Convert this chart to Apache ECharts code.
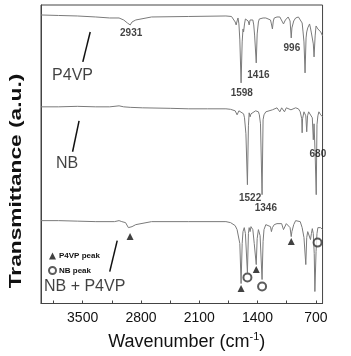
<!DOCTYPE html>
<html>
<head>
<meta charset="utf-8">
<script src="https://cdn.jsdelivr.net/npm/echarts@6.0.0/dist/echarts.min.js"></script>
<style>
  html, body { margin: 0; padding: 0; background: #fff; }
  #chart { width: 351px; height: 356px; }
</style>
</head>
<body>
<div id="chart"></div>
<script>
// FTIR spectra, [wavenumber (cm-1), transmittance (a.u., stacked offsets)]
const p4vp = [
  [4000, 289], [3788, 288.5], [3565, 288], [3342, 287], [3175, 286], [3063, 286],
  [3007, 284], [2963, 281], [2929, 279], [2907, 282], [2884, 280], [2862, 284],
  [2840, 286], [2673, 287], [2226, 287.5], [1780, 288], [1713, 287.5], [1669, 282],
  [1657, 279], [1646, 283], [1635, 286], [1624, 280], [1613, 264], [1598, 221],
  [1585, 262], [1575, 275], [1568, 272], [1557, 280], [1546, 285], [1535, 287],
  [1513, 283], [1501, 279], [1490, 284], [1479, 286], [1457, 284], [1446, 279],
  [1435, 268], [1416, 241], [1405, 270], [1390, 282], [1379, 285], [1356, 285],
  [1334, 286], [1301, 286], [1278, 287], [1245, 284], [1234, 280], [1222, 275],
  [1211, 283], [1200, 286], [1167, 287], [1133, 287], [1111, 286], [1089, 280],
  [1077, 279], [1066, 284], [1055, 286], [1033, 287], [1010, 283], [996, 266],
  [988, 276], [966, 283], [943, 286], [932, 287], [910, 287], [888, 286],
  [865, 281], [854, 272], [843, 262], [830, 231], [818, 266], [810, 272],
  [798, 276], [787, 277], [776, 280], [765, 276], [754, 271], [743, 269],
  [731, 260], [722, 247], [709, 268], [698, 278], [687, 277], [676, 275],
  [664, 273], [653, 275], [642, 272], [631, 270], [620, 268]
];
const nb = [
  [4000, 197], [3788, 197], [3565, 197.5], [3342, 197], [3175, 197], [3063, 198],
  [3007, 197], [2929, 196.5], [2784, 196], [2449, 195.5], [2226, 195], [2003, 195],
  [1780, 195], [1724, 194.5], [1669, 193], [1646, 189], [1624, 193], [1568, 190],
  [1557, 186], [1540, 170], [1522, 119], [1510, 178], [1501, 191], [1490, 187],
  [1479, 190], [1457, 192], [1423, 193], [1390, 192], [1379, 189], [1365, 180],
  [1346, 109], [1334, 184], [1323, 189], [1301, 192], [1278, 194], [1222, 194],
  [1167, 196], [1133, 192], [1111, 196], [1077, 192], [1055, 196], [999, 194],
  [943, 196], [910, 195], [888, 192], [870, 185], [865, 171], [860, 185],
  [843, 192], [832, 193], [821, 188], [810, 172], [800, 188], [787, 192],
  [765, 194], [743, 186], [731, 164], [722, 180], [709, 150], [696, 109],
  [687, 179], [676, 188], [664, 192], [642, 189], [620, 187]
];
const blend = [
  [4000, 83], [3788, 83], [3565, 82.5], [3342, 82], [3119, 82], [3063, 83],
  [3030, 82], [2985, 81], [2951, 76], [2929, 74], [2907, 77], [2884, 75],
  [2862, 79], [2840, 81], [2673, 82], [2226, 82], [1780, 82], [1724, 81],
  [1669, 78], [1646, 74], [1630, 76], [1613, 60], [1598, 20], [1585, 60],
  [1575, 72], [1560, 76], [1546, 70], [1522, 31], [1510, 70], [1501, 76],
  [1490, 72], [1479, 77], [1457, 74], [1440, 60], [1416, 39], [1405, 65],
  [1390, 74], [1370, 68], [1346, 24], [1334, 62], [1323, 74], [1301, 79],
  [1278, 79], [1245, 77], [1234, 72], [1222, 76], [1200, 79], [1167, 80],
  [1111, 80], [1089, 74], [1077, 76], [1055, 80], [1033, 80], [1010, 76],
  [996, 67], [988, 72], [966, 79], [943, 83], [920, 84], [888, 82],
  [865, 76], [843, 66], [821, 39], [810, 66], [798, 72], [787, 74],
  [776, 70], [765, 64], [754, 70], [743, 75], [731, 70], [720, 50],
  [712, 12], [698, 52], [687, 70], [676, 76], [664, 78], [642, 76], [620, 74]
];
// peak markers on the blend spectrum
const p4vpPeaks = [[2931, 67], [1598, 15], [1416, 34], [996, 62]];
const nbPeaks = [[1522, 26], [1346, 17], [680, 61]];

const tickValues = [3850, 3500, 3150, 2800, 2450, 2100, 1750, 1400, 1050, 700];
const labelValues = [3500, 2800, 2100, 1400, 700];

// text annotations placed in data coordinates
const peakLabels = [
  [2918, 271, '2931'], [1590, 211, '1598'], [1390, 229, '1416'], [988, 256, '996'],
  [1490, 105, '1522'], [1301, 95, '1346'], [676, 150, '680']
];
const sampleNames = [
  [3621, 228, 'P4VP'], [3688, 140, 'NB'], [3476, 17, 'NB + P4VP']
];
const breakMarks = [
  [[3498, 242], [3409, 272]],
  [[3621, 152], [3543, 183]],
  [[3175, 32], [3085, 63]]
];

const FONT = '"Liberation Sans", Arial, sans-serif';
const lineColor = '#7a7a7a';
const ink = '#111';

const chart = echarts.init(document.getElementById('chart'));

function spectrum(name, data) {
  return {
    name: name,
    type: 'line',
    data: data,
    showSymbol: false,
    symbol: 'none',
    silent: true,
    lineStyle: { color: lineColor, width: 1 },
    z: 2
  };
}

chart.setOption({
  animation: false,
  grid: { left: 41, right: 7, top: 5, bottom: 52, show: true, borderColor: '#444', borderWidth: 1 },
  legend: {
    data: ['P4VP peak', 'NB peak'],
    orient: 'vertical',
    left: 48,
    top: 252,
    itemWidth: 7,
    itemHeight: 7,
    itemGap: 6,
    padding: 0,
    selectedMode: false,
    textStyle: { fontSize: 8, fontWeight: 'bold', color: ink, fontFamily: FONT, padding: [0, 0, 0, -2] }
  },
  xAxis: {
    type: 'value',
    inverse: true,
    min: 620,
    max: 4000,
    splitLine: { show: false },
    axisLine: { lineStyle: { color: '#444', width: 1 } },
    axisTick: { inside: true, length: 3, customValues: tickValues, lineStyle: { color: '#444' } },
    axisLabel: {
      customValues: labelValues,
      formatter: v => String(v),
      margin: 8,
      fontSize: 14,
      color: ink,
      fontFamily: FONT
    },
    name: '{t|Wavenumber (cm}{s|-1}{t|)}',
    nameLocation: 'middle',
    nameGap: 28,
    nameTextStyle: {
      padding: [0, 0, 0, 10],
      rich: {
        t: { fontSize: 18, color: ink, fontFamily: FONT },
        s: { fontSize: 11, color: ink, fontFamily: FONT, padding: [0, 0, 10, 0] }
      }
    }
  },
  yAxis: {
    type: 'value',
    min: 0,
    max: 299,
    axisLine: { show: true, lineStyle: { color: '#444' } },
    axisTick: { show: false },
    axisLabel: { show: false },
    splitLine: { show: false }
  },
  graphic: [{
    type: 'text',
    x: 17,
    y: 181,
    rotation: Math.PI / 2,
    scaleX: 1.42,
    style: {
      text: 'Transmittance (a.u.)',
      font: 'bold 16px ' + FONT,
      fill: ink,
      align: 'center',
      verticalAlign: 'middle',
      textAlign: 'center',
      textVerticalAlign: 'middle'
    }
  }],
  series: [
    spectrum('P4VP', p4vp),
    spectrum('NB', nb),
    spectrum('NB + P4VP', blend),
    {
      name: 'P4VP peak',
      type: 'scatter',
      data: p4vpPeaks,
      symbol: 'triangle',
      symbolSize: 7,
      itemStyle: { color: ink },
      z: 4
    },
    {
      name: 'NB peak',
      type: 'scatter',
      data: nbPeaks,
      symbol: 'emptyCircle',
      symbolSize: 8,
      itemStyle: { color: '#333', borderWidth: 0.8 },
      z: 4
    },
    {
      name: 'peakLabels',
      type: 'scatter',
      data: peakLabels,
      symbolSize: 0,
      silent: true,
      label: {
        show: true,
        position: 'inside',
        formatter: p => p.data[2],
        fontSize: 10,
        fontWeight: 'bold',
        color: ink,
        fontFamily: FONT
      },
      z: 5
    },
    {
      name: 'sampleNames',
      type: 'scatter',
      data: sampleNames,
      symbolSize: 0,
      silent: true,
      label: {
        show: true,
        position: 'inside',
        formatter: p => p.data[2],
        fontSize: 16,
        color: ink,
        fontFamily: FONT
      },
      z: 5
    },
    {
      name: 'breaks',
      type: 'lines',
      coordinateSystem: 'cartesian2d',
      silent: true,
      data: breakMarks.map(c => ({ coords: c })),
      lineStyle: { color: ink, width: 1.5, opacity: 1 },
      z: 5
    }
  ]
});
</script>
</body>
</html>
